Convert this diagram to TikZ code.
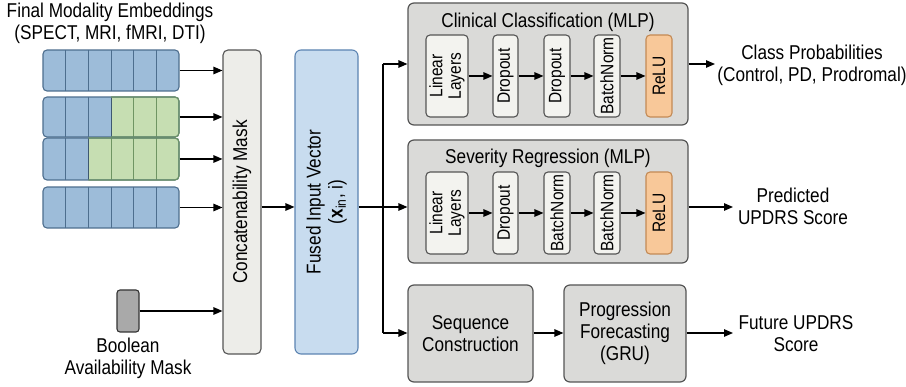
\documentclass[tikz,border=0pt]{standalone}
\usepackage{fontspec}
\setmainfont{Liberation Sans}[FakeStretch=0.86]
\usetikzlibrary{arrows.meta}
\definecolor{bluefill}{HTML}{9DBCD9}
\definecolor{bluedark}{HTML}{4D6E8E}
\definecolor{greenfill}{HTML}{C6DEB2}
\definecolor{greendark}{HTML}{6F9563}
\definecolor{concatfill}{HTML}{EDEDE9}
\definecolor{fusedfill}{HTML}{C8DCEF}
\definecolor{fusedline}{HTML}{5C84B2}
\definecolor{mlpfill}{HTML}{DADAD8}
\definecolor{innerfill}{HTML}{F3F3EF}
\definecolor{relufill}{HTML}{F8C899}
\definecolor{reluline}{HTML}{C38A55}
\definecolor{boolfill}{HTML}{A9A9A9}
\definecolor{edgegray}{HTML}{555555}
\newcommand\fsBig{\fontsize{20}{22}\selectfont}
\newcommand\fsIn{\fontsize{18}{18.5}\selectfont}
\begin{document}
\begin{tikzpicture}[x=1pt,y=-1pt,
  arr/.style={-{Triangle[length=9pt,width=7.5pt]}, line width=1.2pt},
  ln/.style={line width=1.2pt},
  bigbox/.style={draw=edgegray, fill=mlpfill, line width=1.2pt, rounded corners=6pt, inner sep=0pt},
  ib/.style={draw=edgegray, fill=innerfill, line width=1.1pt, rounded corners=4pt, inner sep=0pt, rotate=90, minimum width=82pt, align=center, font=\fsIn},
  relu/.style={ib, fill=relufill, draw=reluline},
  txt/.style={align=center, font=\fsBig, inner sep=0pt}
]
\fill[white] (0,0) rectangle (906,387);
\useasboundingbox (0,0) rectangle (906,387);

% title
\node[txt] (title) at (110,23) {Final Modality Embeddings\\(SPECT, MRI, fMRI, DTI)};

% embedding rows
\foreach \t/\b/\nb/\nm in {50/91/6/emb1, 97/137/3/emb2, 138/180/2/emb3, 187/228/6/emb4}{
  \begin{scope}
    \clip[rounded corners=4pt] (43,\t) rectangle (179,\b);
    \fill[bluefill] (43,\t) rectangle (179,\b);
    \fill[greenfill] (43+\nb*22.667,\t) rectangle (179,\b);
    \foreach \k in {1,...,5}{
      \pgfmathsetmacro{\xx}{43+\k*22.667}
      \ifnum\k<\nb
        \draw[bluedark, line width=0.9pt] (\xx,\t) -- (\xx,\b);
      \else
        \ifnum\k=\nb
          \draw[bluedark!80!black, line width=1pt] (\xx,\t) -- (\xx,\b);
        \else
          \draw[greendark, line width=0.9pt] (\xx,\t) -- (\xx,\b);
        \fi
      \fi
    }
  \end{scope}
  \node[draw=bluedark, line width=1.1pt, rounded corners=4pt, inner sep=0pt,
        minimum width=136pt, minimum height={(\b-\t)*1pt}] (\nm) at (111,{(\t+\b)/2}) {};
  \ifnum\nb<6
    \begin{scope}
      \clip (43+\nb*22.667,\t-3) rectangle (182,\b+3);
      \draw[greendark, line width=1.1pt, rounded corners=4pt] (43,\t) rectangle (179,\b);
    \end{scope}
  \fi
}

% concat and fused
\node[draw=edgegray, fill=concatfill, line width=1.1pt, rounded corners=5pt, rotate=90,
      minimum width=304pt, minimum height=38pt, inner sep=0pt, font=\fsBig] (concat) at (242,202) {Concatenability Mask};
\node[draw=fusedline, fill=fusedfill, line width=1.1pt, rounded corners=6pt, rotate=90,
      minimum width=304pt, minimum height=63pt, inner sep=0pt, align=center, font=\fsBig] (fused) at (326.5,202)
      {Fused Input Vector\\(\textbf{x}\textsubscript{in}, i)};

\foreach \nm in {emb1,emb2,emb3,emb4}
  \draw[arr] (\nm.east) -- (\nm.east -| concat.north);

% boolean mask
\node[draw=black!80, fill=boolfill, line width=1.1pt, rounded corners=3pt, minimum width=22pt, minimum height=42pt, inner sep=0pt] (bool) at (128,311) {};
\node[txt] (boollab) at (128,358) {Boolean\\Availability Mask};
\draw[arr] (bool.east) -- (bool.east -| concat.north);

% junction
\coordinate (j) at (383,207);
\coordinate (jt) at (383,64);
\coordinate (jb) at (383,333);
\draw[arr] (concat.south |- j) -- (fused.north |- j);
\draw[ln] (fused.south |- j) -- (j);
\draw[ln] (jt) -- (jb);

% clinical classification
\node[bigbox, minimum width=280pt, minimum height=122pt] (clin) at (548,64) {};
\node[txt] (clint) at (548,22) {Clinical Classification (MLP)};
\node[ib, minimum height=42pt] (c1) at (447,76) {Linear\\Layers};
\node[ib, minimum height=25pt] (c2) at (505.5,76) {Dropout};
\node[ib, minimum height=26pt] (c3) at (557,76) {Dropout};
\node[ib, minimum height=26pt] (c4) at (607,76) {BatchNorm};
\node[relu, minimum height=26pt] (c5) at (659,76) {ReLU};
\draw[arr] (c1) -- (c2);
\draw[arr] (c2) -- (c3);
\draw[arr] (c3) -- (c4);
\draw[arr] (c4) -- (c5);

% severity regression
\node[bigbox, minimum width=280pt, minimum height=123pt] (sev) at (548,201.5) {};
\node[txt] (sevt) at (548,158) {Severity Regression (MLP)};
\node[ib, minimum height=42pt] (s1) at (447,213) {Linear\\Layers};
\node[ib, minimum height=25pt] (s2) at (505.5,213) {Dropout};
\node[ib, minimum height=26pt] (s3) at (557,213) {BatchNorm};
\node[ib, minimum height=26pt] (s4) at (607,213) {BatchNorm};
\node[relu, minimum height=26pt] (s5) at (659,213) {ReLU};
\draw[arr] (s1) -- (s2);
\draw[arr] (s2) -- (s3);
\draw[arr] (s3) -- (s4);
\draw[arr] (s4) -- (s5);

% bottom branch
\node[bigbox, minimum width=125pt, minimum height=97pt, align=center, font=\fsBig] (seq) at (470.5,333.5) {Sequence\\Construction};
\node[bigbox, minimum width=122pt, minimum height=97pt, align=center, font=\fsBig] (prog) at (625,333.5) {Progression\\Forecasting\\(GRU)};

\draw[arr] (jt) -- (clin.west |- jt);
\draw[arr] (j) -- (sev.west |- j);
\draw[arr] (jb) -- (seq.west |- jb);
\draw[arr] (seq.east |- jb) -- (prog.west |- jb);

% outputs
\coordinate (o1) at (715,64);
\coordinate (o2) at (733,207);
\coordinate (o3) at (733,333);
\draw[arr] (clin.east |- o1) -- (o1);
\draw[arr] (sev.east |- o2) -- (o2);
\draw[arr] (prog.east |- o3) -- (o3);
\node[txt] (out1) at (812,65) {Class Probabilities\\(Control, PD, Prodromal)};
\node[txt] (out2) at (793,206) {Predicted\\UPDRS Score};
\node[txt] (out3) at (796,334) {Future UPDRS\\Score};
\end{tikzpicture}
\end{document}
